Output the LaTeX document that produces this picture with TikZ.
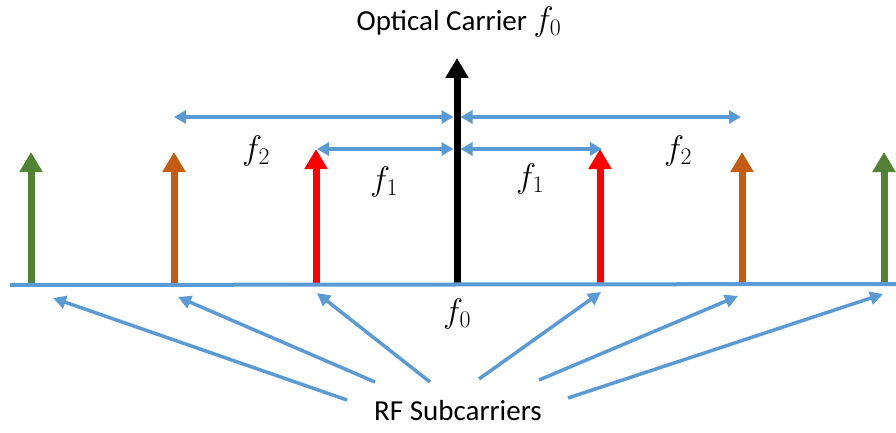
\RequirePackage{fix-cm}
\documentclass[tikz,border=0pt]{standalone}
\usepackage{fontspec}
\setmainfont{Carlito}
\usetikzlibrary{arrows.meta}
\definecolor{cblue}{HTML}{5B9BD5}
\definecolor{cgreen}{HTML}{548235}
\definecolor{corange}{HTML}{C55A11}
\definecolor{cred}{HTML}{FF0000}
\newcommand{\bigmath}[1]{{\fontsize{34}{40}\selectfont$#1$}}
\tikzset{
  carrier/.style={line width=7pt,-{Triangle[width=22pt,length=20pt]}},
  spacing/.style={cblue,line width=3.5pt,{Triangle[width=13pt,length=12pt]}-{Triangle[width=13pt,length=12pt]}},
  pointer/.style={cblue,line width=3.5pt,-{Triangle[width=13pt,length=13pt]}},
  lbl/.style={inner sep=0pt,font=\fontsize{29}{34}\selectfont},
}
\begin{document}
\begin{tikzpicture}[x=1pt,y=-1pt]
\useasboundingbox (0,0) rectangle (896,433);
% carrier base and top points
\coordinate (gLb) at (31,285);  \coordinate (gLt) at (31,152);
\coordinate (oLb) at (174,285); \coordinate (oLt) at (174,152);
\coordinate (rLb) at (316,285); \coordinate (rLt) at (316,149);
\coordinate (kb)  at (457,285); \coordinate (kt)  at (457,58);
\coordinate (rRb) at (600,285); \coordinate (rRt) at (600,149);
\coordinate (oRb) at (742,285); \coordinate (oRt) at (742,152);
\coordinate (gRb) at (884,285); \coordinate (gRt) at (884,152);
% carriers
\draw[carrier,cgreen]  (gLb) -- (gLt);
\draw[carrier,corange] (oLb) -- (oLt);
\draw[carrier,cred]    (rLb) -- (rLt);
\draw[carrier,black]   (kb)  -- (kt);
\draw[carrier,cred]    (rRb) -- (rRt);
\draw[carrier,corange] (oRb) -- (oRt);
\draw[carrier,cgreen]  (gRb) -- (gRt);
% baseline
\coordinate (bl) at (10,285); \coordinate (br) at (896,284);
\draw[cblue,line width=4pt] (bl) -- (br);
% spacing arrows
\coordinate (s2a) at (174,117); \coordinate (s2b) at (453.5,117);
\coordinate (s2c) at (460.5,117); \coordinate (s2d) at (741,117);
\coordinate (s1a) at (317,149); \coordinate (s1b) at (453.5,149);
\coordinate (s1c) at (460.5,149); \coordinate (s1d) at (602,149);
\draw[spacing] (s2a) -- (s2b);
\draw[spacing] (s2c) -- (s2d);
\draw[spacing] (s1a) -- (s1b);
\draw[spacing] (s1c) -- (s1d);
% labels
\node[lbl] (f2L) at (256,151) {\bigmath{f_2}};
\node[lbl] (f1L) at (384,182) {\bigmath{f_1}};
\node[lbl] (f1R) at (530,179) {\bigmath{f_1}};
\node[lbl] (f2R) at (678,151) {\bigmath{f_2}};
\node[lbl] (f0)  at (457,314) {\bigmath{f_0}};
\node[lbl] (oc)  at (459,22) {Optical Carrier \bigmath{f_0}};
\node[lbl] (rf)  at (458,411) {RF Subcarriers};
% pointers
\coordinate (p1) at (347,400); \coordinate (h1) at (53,298);
\coordinate (p2) at (375,382); \coordinate (h2) at (178,297);
\coordinate (p3) at (430,382); \coordinate (h3) at (317,293);
\coordinate (p4) at (479,379); \coordinate (h4) at (601,292);
\coordinate (p5) at (539,380); \coordinate (h5) at (738,296);
\coordinate (p6) at (568,398); \coordinate (h6) at (883,294);
\draw[pointer] (p1) -- (h1);
\draw[pointer] (p2) -- (h2);
\draw[pointer] (p3) -- (h3);
\draw[pointer] (p4) -- (h4);
\draw[pointer] (p5) -- (h5);
\draw[pointer] (p6) -- (h6);
\end{tikzpicture}
\end{document}
